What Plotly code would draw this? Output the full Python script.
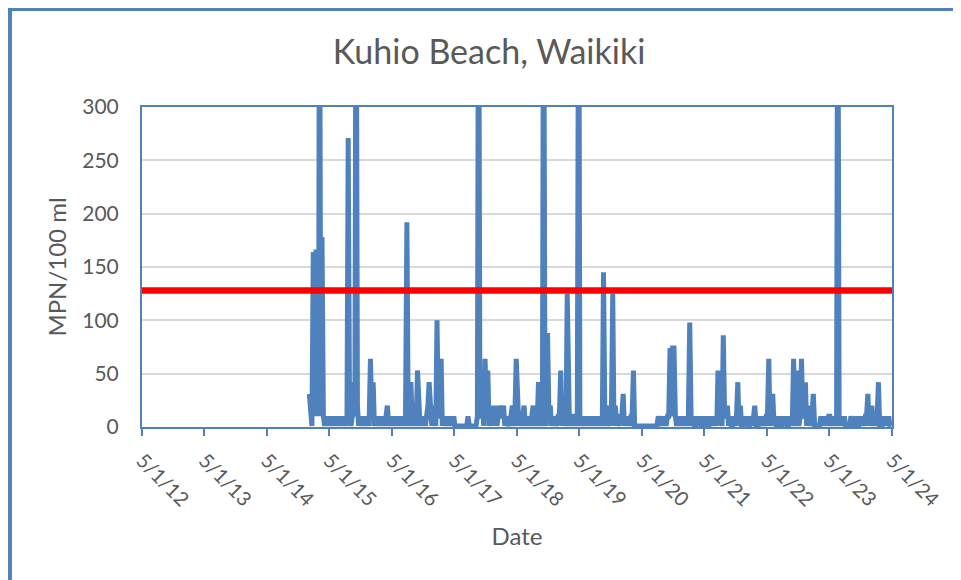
import plotly.graph_objects as go

# Enterococcus samples (MPN/100 ml), listed by month; values above 300 are off-scale spikes
months = [
    "2015-01", "2015-02", "2015-03", "2015-04", "2015-05", "2015-06", "2015-07", "2015-08",
    "2015-09", "2015-10", "2015-11", "2015-12", "2016-01", "2016-02", "2016-03", "2016-04",
    "2016-05", "2016-06", "2016-07", "2016-08", "2016-09", "2016-10", "2016-11", "2016-12",
    "2017-01", "2017-02", "2017-03", "2017-04", "2017-05", "2017-06", "2017-07", "2017-08",
    "2017-09", "2017-10", "2017-11", "2017-12", "2018-01", "2018-02", "2018-03", "2018-04",
    "2018-05", "2018-06", "2018-07", "2018-08", "2018-09", "2018-10", "2018-11", "2018-12",
    "2019-01", "2019-02", "2019-03", "2019-04", "2019-05", "2019-06", "2019-07", "2019-08",
    "2019-09", "2019-10", "2019-11", "2019-12", "2020-01", "2020-02", "2020-03", "2020-04",
    "2020-05", "2020-06", "2020-07", "2020-08", "2020-09", "2020-10", "2020-11", "2020-12",
    "2021-01", "2021-02", "2021-03", "2021-04", "2021-05", "2021-06", "2021-07", "2021-08",
    "2021-09", "2021-10", "2021-11", "2021-12", "2022-01", "2022-02", "2022-03", "2022-04",
    "2022-05", "2022-06", "2022-07", "2022-08", "2022-09", "2022-10", "2022-11", "2022-12",
    "2023-01", "2023-02", "2023-03", "2023-04", "2023-05", "2023-06", "2023-07", "2023-08",
    "2023-09", "2023-10", "2023-11", "2023-12", "2024-01", "2024-02", "2024-03", "2024-04",
]
monthly_values = [
    [31, 10, 1, 164], [10, 164, 164, 10], [500, 10, 178, 10], [1, 10, 1, 10],
    [1, 10, 1, 10], [1, 10, 1, 10], [1, 10, 1, 10], [1, 10, 271, 10],
    [1, 10, 42, 10], [500, 20, 1, 10], [1, 10, 1, 10], [1, 10, 1, 64],
    [10, 42, 1, 10], [1, 10, 1, 10], [1, 10, 1, 10], [20, 1, 10, 1],
    [10, 1, 10, 1], [10, 1, 10, 1], [10, 1, 10, 192], [1, 10, 42, 10],
    [1, 10, 1, 53], [10, 1, 10, 1], [10, 1, 10, 20], [42, 10, 1, 20],
    [10, 1, 100, 10], [10, 64, 1, 10], [1, 10, 1, 10], [1, 10, 1, 10],
    [1, 1, 1, 1], [1, 1, 1, 1], [1, 1, 10, 1], [1, 1, 1, 1],
    [1, 10, 500, 10], [10, 20, 1, 64], [10, 53, 1, 10], [10, 20, 1, 20],
    [1, 10, 20, 10], [10, 20, 1, 10], [1, 5, 1, 10], [20, 1, 10, 64],
    [10, 1, 10, 1], [10, 20, 1, 10], [1, 10, 1, 10], [20, 1, 10, 1],
    [42, 10, 1, 10], [500, 10, 1, 88], [10, 20, 1, 10], [1, 10, 1, 10],
    [10, 53, 1, 20], [10, 1, 125, 10], [1, 10, 1, 10], [10, 1, 10, 500],
    [10, 1, 10, 1], [10, 1, 10, 1], [10, 1, 10, 1], [10, 1, 10, 1],
    [10, 1, 145, 10], [1, 20, 1, 10], [10, 125, 1, 20], [1, 10, 1, 10],
    [10, 31, 1, 10], [1, 10, 1, 10], [10, 53, 1, 1], [1, 1, 1, 1],
    [1, 1, 1, 1], [1, 1, 1, 1], [1, 1, 1, 1], [10, 1, 1, 10],
    [1, 10, 1, 10], [10, 74, 10, 74], [74, 10, 1, 10], [1, 10, 1, 10],
    [1, 10, 1, 10], [98, 10, 1, 10], [1, 1, 10, 1], [10, 1, 1, 10],
    [1, 10, 1, 1], [10, 1, 10, 1], [10, 1, 53, 10], [10, 1, 86, 10],
    [10, 20, 1, 10], [1, 1, 10, 1], [10, 42, 1, 20], [1, 1, 10, 1],
    [10, 1, 1, 10], [1, 10, 20, 1], [1, 1, 10, 1], [10, 1, 1, 10],
    [10, 64, 1, 10], [31, 1, 10, 1], [1, 10, 1, 1], [10, 1, 10, 1],
    [1, 10, 1, 10], [64, 10, 1, 53], [1, 10, 64, 10], [10, 42, 1, 20],
    [10, 1, 10, 31], [1, 1, 1, 1], [1, 10, 1, 10], [1, 10, 1, 10],
    [10, 1, 10, 1], [10, 1, 500, 10], [1, 10, 1, 10], [1, 1, 1, 1],
    [10, 1, 1, 1], [10, 1, 1, 10], [1, 10, 1, 10], [10, 31, 1, 10],
    [20, 1, 10, 1], [10, 42, 1, 1], [1, 10, 1, 10], [1, 10, 1, 1],
]
threshold_dates = ["2012-05-01", "2024-05-01"]
threshold_values = [128, 128]

x_tick_start = "2012-05-01"
x_range = ["2012-05-01", "2024-05-01"]
y_range = [0, 300]

# expand monthly samples into dated points spread across each month
dates, values = [], []
for m, vals in zip(months, monthly_values):
    n = len(vals)
    for i, v in enumerate(vals):
        day = min(28, 1 + int((i + 0.5) * 30 / n))
        dates.append(f"{m}-{day:02d}")
        values.append(v)

BLUE = "#4F81BD"
TEXT = "#595959"
FONT = "Lato"

fig = go.Figure()
fig.add_trace(go.Scatter(
    x=dates, y=values, mode="lines",
    line=dict(color=BLUE, width=5), showlegend=False, hoverinfo="x+y",
))
fig.add_trace(go.Scatter(
    x=threshold_dates, y=threshold_values, mode="lines",
    line=dict(color="#FF0000", width=6.5), showlegend=False,
))

W, H = 961, 580
OFF = 8  # page body margin
L, T = 142 - OFF, 107 - OFF
R, B = W - (892 - OFF), H - (427 - OFF)
pw, ph = W - L - R, H - T - B

def px(page_x):
    return (page_x - OFF - L) / pw

def py(page_y):
    return (H - B - (page_y - OFF)) / ph

fig.update_layout(
    width=W, height=H,
    margin=dict(l=L, r=R, t=T, b=B, autoexpand=False),
    paper_bgcolor="white", plot_bgcolor="white",
    font=dict(family=FONT, color=TEXT, size=21),
    title=dict(text="Kuhio Beach, Waikiki", x=(489 - OFF) / W, xanchor="center",
               y=1 - (52 - OFF) / H, yanchor="middle", yref="container",
               font=dict(size=34, color=TEXT, family=FONT)),
    xaxis=dict(
        type="date", range=x_range, tick0=x_tick_start, dtick="M12",
        tickformat="%-m/%-d/%y", tickangle=45, ticks="outside", ticklen=7,
        tickcolor=BLUE, tickwidth=2, showgrid=False, zeroline=False,
        showline=True, linecolor=BLUE, linewidth=2, mirror=True,
        tickfont=dict(size=20, color=TEXT), ticklabelstandoff=5,
        title=dict(text="Date", font=dict(size=24, color=TEXT), standoff=18),
    ),
    yaxis=dict(
        range=y_range, tick0=0, dtick=50, ticks="", showgrid=True,
        gridcolor="#D9D9D9", gridwidth=2, zeroline=False,
        showline=True, linecolor=BLUE, linewidth=2, mirror=True,
        tickfont=dict(size=21, color=TEXT), ticklabelstandoff=17,
        title=dict(text="MPN/100 ml", font=dict(size=24, color=TEXT), standoff=9),
    ),
    shapes=[
        dict(type="line", xref="paper", yref="paper", x0=px(9.5), x1=px(9.5),
             y0=py(8), y1=py(600), line=dict(color=BLUE, width=5)),
        dict(type="line", xref="paper", yref="paper", x0=px(7), x1=px(980),
             y0=py(9.5), y1=py(9.5), line=dict(color=BLUE, width=3)),
    ],
)

fig.write_html("out.html")
